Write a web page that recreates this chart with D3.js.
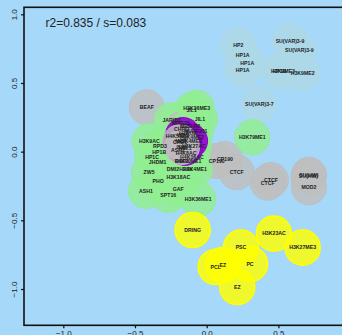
<!DOCTYPE html>
<html>
<head>
<meta charset="utf-8">
<script src="https://cdn.jsdelivr.net/npm/d3@7"></script>
<style>
  body { margin: 0; background: #a6d8fa; }
  svg { display: block; }
  .lbl { font-family: "Liberation Sans", Arial, sans-serif; font-weight: bold; font-size: 5.2px; fill: #222; }
  .tick text { font-family: "Liberation Sans", Arial, sans-serif; font-size: 8px; fill: #222; }
</style>
</head>
<body>
<svg id="chart"></svg>
<script>
var width = 342, height = 335;

// points, in drawing order
var labels = ["BEAF", "CP190", "CP190", "CTCF", "CTCF", "CTCF", "SU(HW)", "SU(HW)", "MOD2",
  "HP2", "HP1A", "HP1A", "HP1A", "SU(VAR)3-9", "SU(VAR)3-9", "HP1B", "H3K9ME3", "H3K9ME2", "SU(VAR)3-7",
  "H3K36ME3", "JIL1", "JIL1", "H3K79ME1", "H3K9AC", "RPD3", "HP1B", "HP1C", "JHDM1", "DSP1", "H4K20ME1",
  "DMI2", "H3K4ME1", "H2AV", "ZW5", "H3K18AC", "PHO", "ASH1", "GAF", "SPT16", "H3K36ME1",
  "JARID1", "MRG15", "CHRO", "NURF301", "MBD-R2", "H2BUB", "H4K5AC", "H3K4ME2", "ASH2", "H3K27AC", "H4K8AC", "H4K16AC",
  "WDS", "H3K4ME3", "NSL1", "MOF",
  "CHD1", "ISWI",
  "DRING", "H3K23AC", "H3K27ME3", "PCL", "EZ", "PC", "EZ", "PSC"];
var xs = [-0.418, 0.128, 0.070, 0.209, 0.448, 0.425, 0.713, 0.709, 0.713,
  0.220, 0.251, 0.283, 0.251, 0.581, 0.646, 0.508, 0.532, 0.669, 0.367,
  -0.070, -0.105, -0.047, 0.318, -0.400, -0.326, -0.331, -0.381, -0.342, -0.172, -0.130,
  -0.235, -0.082, -0.144, -0.402, -0.198, -0.338, -0.423, -0.198, -0.268, -0.059,
  -0.244, -0.181, -0.174, -0.075, -0.116, -0.130, -0.214, -0.103, -0.200, -0.089, -0.144, -0.103,
  -0.165, -0.116, -0.151, -0.179,
  -0.186, -0.172,
  -0.098, 0.469, 0.669, 0.063, 0.112, 0.302, 0.213, 0.239];
var ys = [0.323, -0.053, -0.068, -0.150, -0.206, -0.226, -0.168, -0.182, -0.260,
  0.777, 0.704, 0.645, 0.592, 0.806, 0.740, 0.584, 0.584, 0.570, 0.347,
  0.320, 0.301, 0.238, 0.104, 0.078, 0.043, -0.005, -0.039, -0.078, -0.068, -0.068,
  -0.126, -0.129, -0.126, -0.153, -0.187, -0.212, -0.286, -0.272, -0.316, -0.345,
  0.230, 0.206, 0.163, 0.150, 0.187, 0.136, 0.114, 0.107, 0.012, 0.041, -0.010, -0.039,
  0.121, 0.078, 0.027, 0.078,
  0.070, 0.034,
  -0.570, -0.597, -0.699, -0.840, -0.825, -0.818, -0.985, -0.699];
var groups = ["gray", "gray", "gray", "gray", "gray", "gray", "gray", "gray", "gray",
  "blue", "blue", "blue", "blue", "blue", "blue", "blue", "blue", "blue", "blue",
  "green", "green", "green", "green", "green", "green", "green", "green", "green", "green", "green",
  "green", "green", "green", "green", "green", "green", "green", "green", "green", "green",
  "green", "green", "gray", "green", "green", "green", "green", "green", "green", "green", "green", "green",
  "purple", "purple", "purple", "purple",
  "gray", "gray",
  "yellow", "yellow", "yellow", "yellow", "yellow", "yellow", "yellow", "yellow"];

var groupNames = ["gray", "blue", "green", "purple", "yellow"],
    groupColors = ["#bebebe", "#add8e6", "#90ee90", "#9400d3", "#ffff00"];

var xTicks = [-1, -0.5, 0, 0.5],
    yTicks = [-1, -0.5, 0, 0.5, 1],
    title = "r2=0.835 / s=0.083";

var points = labels.map(function(d, i) {
  return {label: d, x: xs[i], y: ys[i], group: groups[i]};
});

var svg = d3.select("#chart").attr("width", width).attr("height", height);

svg.append("rect")
  .attr("width", width).attr("height", height)
  .attr("fill", "#a6d8fa");

var x = d3.scaleLinear().domain([-1, 0.5]).range([63.3, 278.4]),
    y = d3.scaleLinear().domain([-1, 1]).range([289, 14.3]),
    color = d3.scaleOrdinal().domain(groupNames).range(groupColors),
    fmt = d3.format(".1f");

// circles
svg.append("g")
  .selectAll("circle")
  .data(points)
  .enter()
  .append("circle")
  .attr("cx", function(d) { return x(d.x); })
  .attr("cy", function(d) { return y(d.y); })
  .attr("r", 17.5)
  .attr("fill", function(d) { return color(d.group); })
  .attr("fill-opacity", function(d) {
    return d.group == "yellow" ? 0.82 : d.group == "purple" ? 0.9 : 0.85;
  })
  .attr("stroke", function(d) { return color(d.group); })
  .attr("stroke-width", function(d) { return d.group == "yellow" ? 1.6 : 1; });

// labels on top
svg.append("g")
  .selectAll("text")
  .data(points)
  .enter()
  .append("text")
  .attr("class", "lbl")
  .attr("x", function(d) { return x(d.x); })
  .attr("y", function(d) { return y(d.y); })
  .attr("dy", "0.35em")
  .attr("text-anchor", "middle")
  .text(function(d) { return d.label; });

// frame
svg.append("rect")
  .attr("x", 24).attr("y", 7.3)
  .attr("width", 340).attr("height", 318)
  .attr("fill", "none")
  .attr("stroke", "#111")
  .attr("stroke-width", 1.6);

// axes
var yAxis = svg.append("g")
  .attr("transform", "translate(24,0)")
  .call(d3.axisLeft(y).tickValues(yTicks).tickSize(3).tickFormat(fmt));
yAxis.select(".domain").remove();
yAxis.selectAll(".tick line").attr("stroke", "#111").attr("stroke-width", 1.2);
yAxis.selectAll(".tick text")
  .attr("x", 0).attr("y", 0).attr("dy", 0)
  .attr("text-anchor", "middle")
  .attr("transform", "translate(-7,0) rotate(-90)");

var xAxis = svg.append("g")
  .attr("transform", "translate(0,325.3)")
  .call(d3.axisBottom(x).tickValues(xTicks).tickSize(3).tickFormat(fmt));
xAxis.select(".domain").remove();
xAxis.selectAll(".tick line").attr("stroke", "#111").attr("stroke-width", 1.2);
xAxis.selectAll(".tick text").attr("y", 0).attr("dy", 0).attr("transform", "translate(0,11)");

svg.append("text")
  .attr("x", 45.5).attr("y", 27)
  .style("font-family", "'Liberation Sans', Arial, sans-serif")
  .style("font-size", "12px")
  .attr("fill", "#222")
  .text(title);
</script>
</body>
</html>
